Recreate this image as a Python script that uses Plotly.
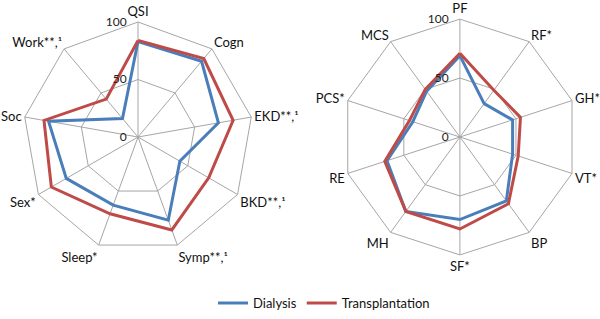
import plotly.graph_objects as go

left_axes = ["QSI", "Cogn", "EKD**,¹", "BKD**,¹", "Symp**,¹", "Sleep*", "Sex*", "Soc", "Work**,¹"]
left_dialysis = [83, 86, 71, 42, 77, 63, 72, 79, 21]
left_transplant = [84, 89, 84, 71, 86, 71, 87, 83, 43]

right_axes = ["PF", "RF*", "GH*", "VT*", "BP", "SF*", "MH", "RE", "PCS*", "MCS"]
right_dialysis = [69, 35, 47, 47, 67, 70, 78, 65, 42, 48]
right_transplant = [71, 49, 54, 52, 70, 78, 78, 67, 45, 50]

radial_ticks = [0, 50, 100]
radial_tick_text = ["0", "50", "100"]

BLUE = "#4A7EBB"
RED = "#BE4B48"
GRID = "#A6A6A6"
FONT = "Lato"


def closed(vals):
    return list(vals) + [vals[0]]


fig = go.Figure()
fig.add_trace(go.Scatterpolar(r=closed(left_dialysis), theta=closed(left_axes), mode="lines",
                              line=dict(color=BLUE, width=3), name="Dialysis", subplot="polar"))
fig.add_trace(go.Scatterpolar(r=closed(left_transplant), theta=closed(left_axes), mode="lines",
                              line=dict(color=RED, width=3), name="Transplantation", subplot="polar"))
fig.add_trace(go.Scatterpolar(r=closed(right_dialysis), theta=closed(right_axes), mode="lines",
                              line=dict(color=BLUE, width=3), name="Dialysis", subplot="polar2",
                              showlegend=False))
fig.add_trace(go.Scatterpolar(r=closed(right_transplant), theta=closed(right_axes), mode="lines",
                              line=dict(color=RED, width=3), name="Transplantation", subplot="polar2",
                              showlegend=False))


def polar_cfg(domain_x, domain_y, cats):
    return dict(
        domain=dict(x=domain_x, y=domain_y),
        gridshape="linear",
        bgcolor="white",
        radialaxis=dict(range=[0, 100], tickvals=radial_ticks,
                        ticktext=[t + "\u2003" for t in radial_tick_text],
                        angle=90, tickangle=90, side="counterclockwise",
                        showline=False, gridcolor=GRID, gridwidth=1, ticks="",
                        tickfont=dict(family=FONT, size=12, color="#222")),
        angularaxis=dict(categoryarray=cats, categoryorder="array", rotation=90,
                         direction="clockwise", linecolor=GRID, linewidth=1,
                         gridcolor=GRID, gridwidth=1, ticks="",
                         tickfont=dict(family=FONT, size=13, color="#111")),
    )


fig.update_layout(
    width=600, height=319,
    margin=dict(l=0, r=0, t=0, b=0),
    paper_bgcolor="white",
    font=dict(family=FONT, size=13, color="#111"),
    polar=polar_cfg([0.038, 0.422], [0.21, 0.931], left_axes),
    polar2=polar_cfg([0.57, 0.963], [0.2006, 0.9404], right_axes),
    legend=dict(orientation="h", x=0.54, xanchor="center", y=0.05, yanchor="middle",
                font=dict(family=FONT, size=13), itemwidth=30),
    showlegend=True,
)

fig.write_html("out.html", config={"displayModeBar": False},
               post_script="document.body.style.margin='0';")
